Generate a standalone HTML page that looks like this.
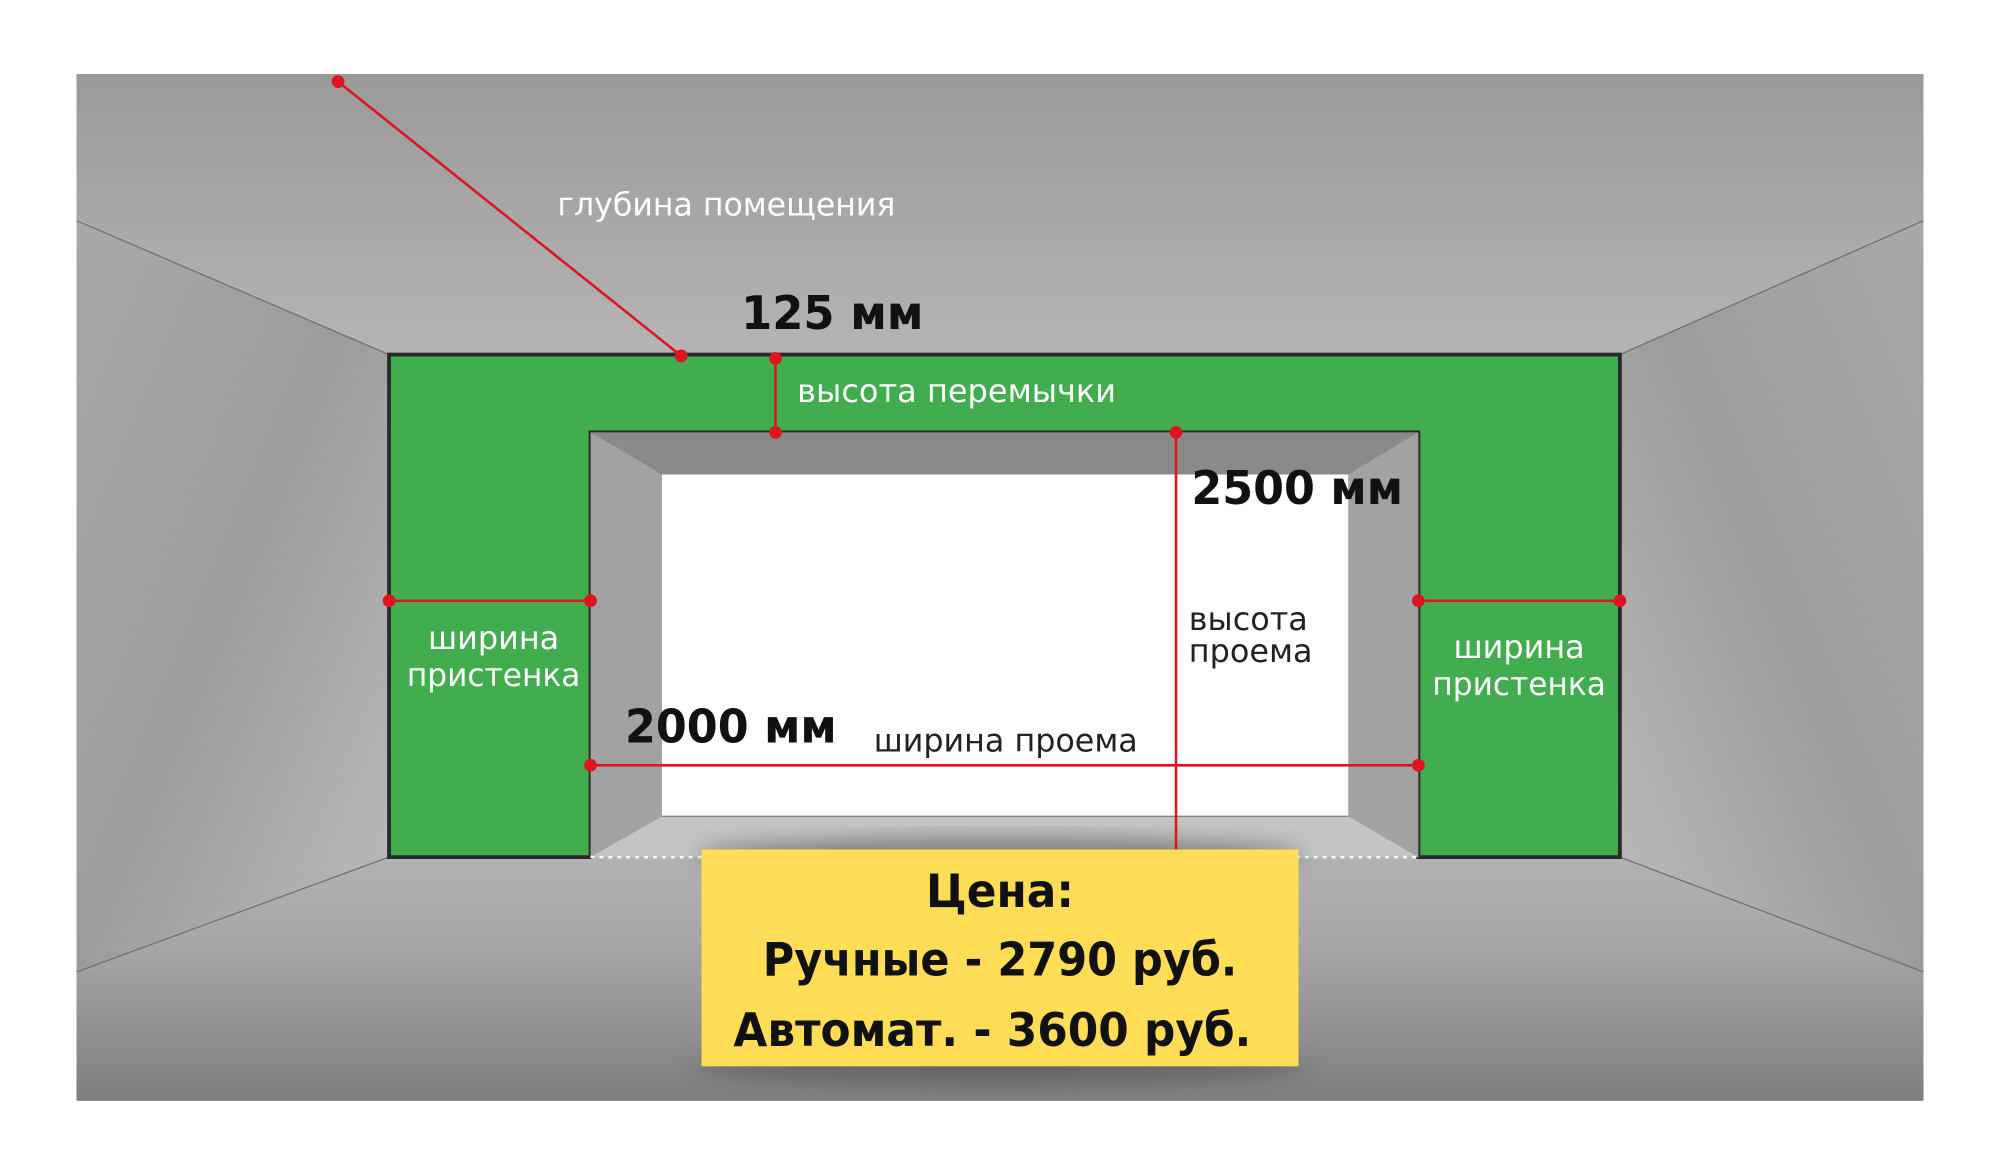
<!DOCTYPE html>
<html><head><meta charset="utf-8"><style>
html,body{margin:0;padding:0;background:#fff;}
svg{display:block;}
text{font-family:"DejaVu Sans","Liberation Sans",sans-serif;}
</style></head><body>
<svg width="2000" height="1176" viewBox="0 0 1568 922" preserveAspectRatio="none" xmlns="http://www.w3.org/2000/svg">
<defs>
<linearGradient id="ceil" x1="0" y1="0" x2="0" y2="1"><stop offset="0" stop-color="#9a9a9a"/><stop offset="1" stop-color="#b4b4b4"/></linearGradient>
<linearGradient id="lw" x1="0" y1="0" x2="1" y2="1"><stop offset="0" stop-color="#a8a8a8"/><stop offset="0.5" stop-color="#9c9c9c"/><stop offset="1" stop-color="#bcbcbc"/></linearGradient>
<linearGradient id="rw" x1="1" y1="0" x2="0" y2="1"><stop offset="0" stop-color="#a8a8a8"/><stop offset="0.5" stop-color="#9c9c9c"/><stop offset="1" stop-color="#bcbcbc"/></linearGradient>
<linearGradient id="fl" x1="0" y1="0" x2="0" y2="1"><stop offset="0" stop-color="#b2b2b2"/><stop offset="0.4" stop-color="#a4a4a4"/><stop offset="1" stop-color="#7e7e7e"/></linearGradient>
<filter id="sh" x="-20%" y="-30%" width="140%" height="160%"><feGaussianBlur stdDeviation="8"/></filter>
</defs>
<rect x="60" y="58" width="1448" height="805" fill="#a0a0a0"/>
<polygon points="60,58 1508,58 1508,173 1270,278 305,278 60,173" fill="url(#ceil)"/>
<polygon points="60,173 305,278 305,672 60,762" fill="url(#lw)"/>
<polygon points="1508,173 1270,278 1270,672 1508,762" fill="url(#rw)"/>
<polygon points="60,762 305,672 1270,672 1508,762 1508,863 60,863" fill="url(#fl)"/>
<g stroke="#707070" stroke-width="1" fill="none">
<line x1="60" y1="173" x2="305" y2="278"/><line x1="1508" y1="173" x2="1270" y2="278"/>
<line x1="60" y1="762" x2="305" y2="672"/><line x1="1508" y1="762" x2="1270" y2="672"/>
</g>
<!-- green frame -->
<path d="M305,278 H1270 V672 H1112 V339 H463 V672 H305 Z" fill="#42ad4f" stroke="#2a2a2a" stroke-width="3"/>
<!-- opening -->
<polygon points="463,339 1112,339 1057,372 519,372" fill="#8a8a8a"/>
<polygon points="463,339 519,372 519,640 463,672" fill="#a2a2a2"/>
<polygon points="1112,339 1057,372 1057,640 1112,672" fill="#a2a2a2"/>
<rect x="519" y="372" width="538" height="268" fill="#fff"/>
<polygon points="519,640 1057,640 1112,672 463,672" fill="#c4c4c4"/>
<line x1="519" y1="640" x2="1057" y2="640" stroke="#888" stroke-width="1"/>
<line x1="463" y1="672" x2="1112" y2="672" stroke="#fff" stroke-width="2" stroke-dasharray="3,4"/>
<!-- shadow + yellow box -->
<ellipse cx="784" cy="670" rx="240" ry="14" fill="#444" opacity="0.5" filter="url(#sh)"/>
<ellipse cx="784" cy="836" rx="240" ry="14" fill="#444" opacity="0.5" filter="url(#sh)"/>
<rect x="550" y="666" width="468" height="170" fill="#ffdd57"/>
<!-- red lines -->
<g stroke="#e0141e" stroke-width="2">
<line x1="265" y1="64" x2="534" y2="279"/>
<line x1="608" y1="281" x2="608" y2="339"/>
<line x1="922" y1="339" x2="922" y2="666"/>
<line x1="305" y1="471" x2="463" y2="471"/>
<line x1="1112" y1="471" x2="1270" y2="471"/>
<line x1="463" y1="600" x2="1112" y2="600"/>
</g>
<g fill="#e0141e">
<circle cx="265" cy="64" r="5"/><circle cx="534" cy="279" r="5"/>
<circle cx="608" cy="281" r="5"/><circle cx="608" cy="339" r="5"/>
<circle cx="922" cy="339" r="5"/>
<circle cx="305" cy="471" r="5"/><circle cx="463" cy="471" r="5"/>
<circle cx="1112" cy="471" r="5"/><circle cx="1270" cy="471" r="5"/>
<circle cx="463" cy="600" r="5"/><circle cx="1112" cy="600" r="5"/>
</g>
<!-- labels -->
<g fill="#fff" font-size="25">
<text x="437" y="169" textLength="265" lengthAdjust="spacingAndGlyphs">глубина помещения</text>
<text x="625" y="315" textLength="250" lengthAdjust="spacingAndGlyphs">высота перемычки</text>
<text x="387" y="509" text-anchor="middle">ширина</text>
<text x="387" y="538" text-anchor="middle" textLength="136" lengthAdjust="spacingAndGlyphs">пристенка</text>
<text x="1191" y="516" text-anchor="middle">ширина</text>
<text x="1191" y="545" text-anchor="middle" textLength="136" lengthAdjust="spacingAndGlyphs">пристенка</text>
</g>
<g fill="#222" font-size="25">
<text x="932" y="494">высота</text>
<text x="932" y="519">проема</text>
<text x="685" y="589" textLength="207" lengthAdjust="spacingAndGlyphs">ширина проема</text>
</g>
<g fill="#111" font-size="36" font-weight="bold">
<text x="581" y="258" textLength="143" lengthAdjust="spacingAndGlyphs">125 мм</text>
<text x="934" y="395" textLength="166" lengthAdjust="spacingAndGlyphs">2500 мм</text>
<text x="490" y="582" textLength="166" lengthAdjust="spacingAndGlyphs">2000 мм</text>
<text x="784" y="711" text-anchor="middle" textLength="116" lengthAdjust="spacingAndGlyphs">Цена:</text>
<text x="784" y="765" text-anchor="middle" textLength="372" lengthAdjust="spacingAndGlyphs">Ручные - 2790 руб.</text>
<text x="778" y="820" text-anchor="middle" textLength="406" lengthAdjust="spacingAndGlyphs">Автомат. - 3600 руб.</text>
</g>
</svg>
</body></html>
